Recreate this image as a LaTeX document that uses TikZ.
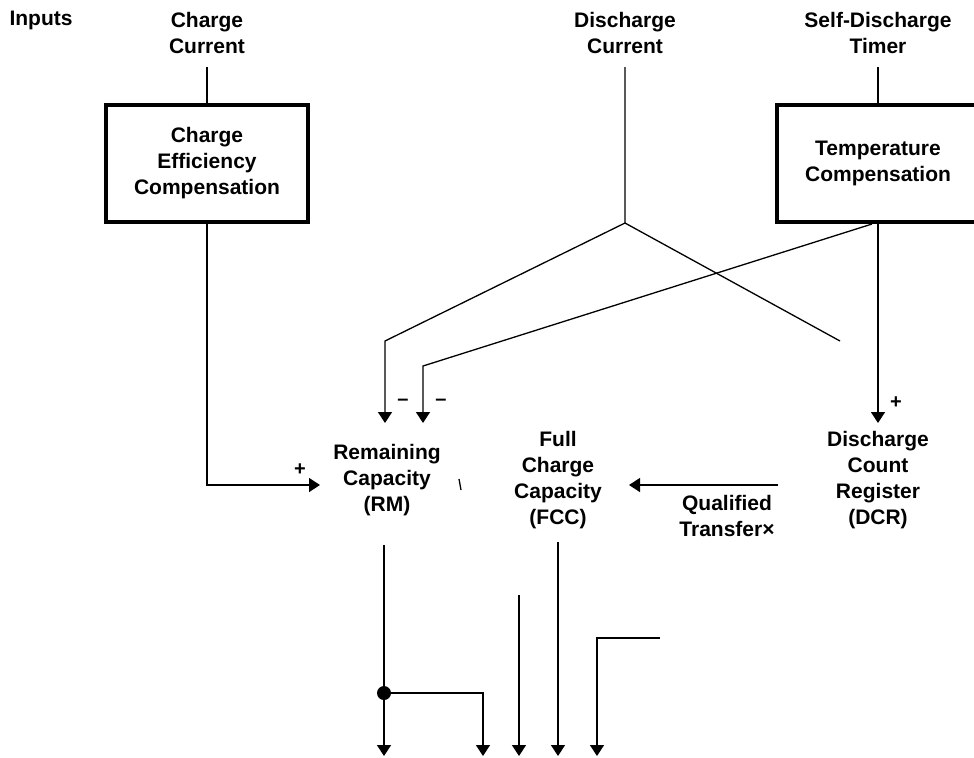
\documentclass[tikz,border=0pt]{standalone}
\usepackage{fontspec}
\setmainfont{Liberation Sans}
\usepackage{tikz}
\usetikzlibrary{arrows.meta,calc,positioning}

\tikzset{
  lbl/.style={align=center,inner sep=0pt,font=\fontsize{10.5}{13}\selectfont\bfseries},
  blk/.style={draw,line width=2pt,minimum width=101pt,minimum height=58.5pt},
  wire/.style={line width=0.65pt},
  sgn/.style={inner sep=0pt,font=\fontsize{10}{12}\selectfont\bfseries},
}

\begin{document}
\begin{tikzpicture}[line cap=butt,line join=miter,>={Triangle[length=5.5pt,width=7pt]},x=0.5pt,y=-0.5pt]
\useasboundingbox (0,0) rectangle (974,757);
\clip (0,0) rectangle (974,757);
%\label{fig:gauge:counters}
\coordinate (ccin) at (207,67); \coordinate (dcin) at (625,67); \coordinate (sdin) at (878,67);
\coordinate (dsplit) at (625,223); \coordinate (bendA) at (385,341); \coordinate (tipA) at (385,423);
\coordinate (dcend) at (840,341); \coordinate (tcout) at (872,224); \coordinate (bendB) at (423,366);
\coordinate (tipB) at (423,423); \coordinate (rmplus) at (320,485); \coordinate (dcrtip) at (878,423);
\coordinate (fcctip) at (629,485); \coordinate (qtstart) at (778,485);
\coordinate (rmout) at (384,545); \coordinate (junc) at (384,693); \coordinate (outA) at (384,756);
\coordinate (outB) at (483,756); \coordinate (fcctop) at (519,595); \coordinate (outC) at (519,756);
\coordinate (fccout) at (558,542); \coordinate (outD) at (558,756); \coordinate (feed) at (660,638);
\coordinate (outE) at (597,756);

% inputs
\node[lbl] (inp) at (41,20) {Inputs};
\node[lbl] (cc) at (207,33) {Charge\\Current};
\node[lbl] (dc) at (625,33) {Discharge\\Current};
\node[lbl] (sd) at (878,33) {Self-Discharge\\Timer};

% compensation blocks
\node[blk,lbl] (cec) at (207,163.5) {Charge\\Efficiency\\Compensation};
\node[blk,lbl] (tc) at (878,163.5) {Temperature\\Compensation};

% registers
\node[lbl] (rm) at (387,480) {Remaining\\Capacity\\(RM)};
\node[lbl] (fcc) at (558,480) {Full\\Charge\\Capacity\\(FCC)};
\node[lbl] (dcr) at (878,480) {Discharge\\Count\\Register\\(DCR)};
\node[lbl] (qt) at (727,516) {Qualified\\Transfer×};

\draw[wire] (ccin) -- (cec.north);
\draw[wire] (sdin) -- (tc.north);
\draw[wire,->] (cec.south) |- (rmplus);
\draw[wire] (dcin) -- (dsplit) -- (dcend);
\draw[wire,->] (dsplit) -- (bendA) -- (tipA);
\draw[wire,->] (tcout) -- (bendB) -- (tipB);
\draw[wire,->] (tc.south) -- (dcrtip);
\draw[wire,->] (qtstart) -- (fcctip);
\draw[wire] (459,479) -- (461,490);

% signs
\node[sgn] (mA) at (403,402) {–};
\node[sgn] (mB) at (441,402) {–};
\node[sgn] (pA) at (300,470) {+};
\node[sgn] (pB) at (896,403) {+};

% outputs
\draw[wire,->] (rmout) -- (outA);
\fill (junc) circle[radius=3.5pt];
\draw[wire,->] (junc) -| (outB);
\draw[wire,->] (fcctop) -- (outC);
\draw[wire,->] (fccout) -- (outD);
\draw[wire,->] (feed) -| (outE);
\end{tikzpicture}
\end{document}
